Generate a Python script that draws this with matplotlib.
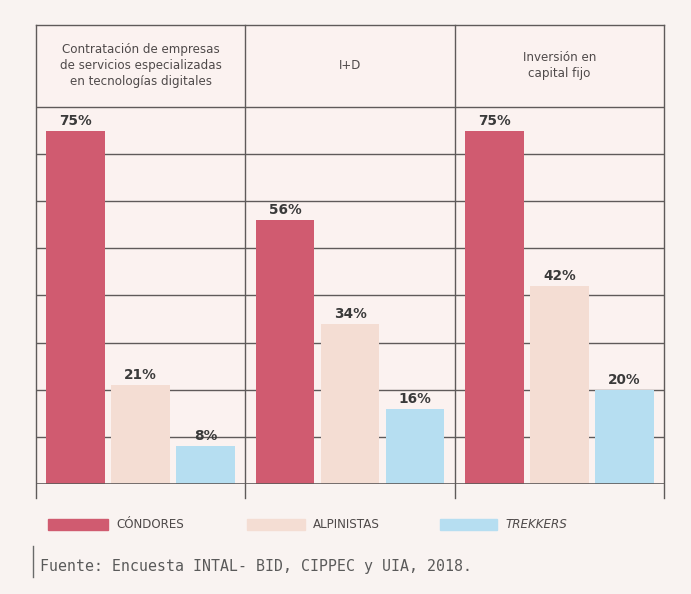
import matplotlib
matplotlib.use("Agg")
import matplotlib.pyplot as plt
from matplotlib.patches import Rectangle
import numpy as np

# ---- datos ------------------------------------------------------------------
categorias = [
    "Contratación de empresas\nde servicios especializadas\nen tecnologías digitales",
    "I+D",
    "Inversión en\ncapital fijo",
]
grupos = ["CÓNDORES", "ALPINISTAS", "TREKKERS"]
condores = [75, 56, 75]
alpinistas = [21, 34, 42]
trekkers = [8, 16, 20]

colores = ["#d05b70", "#f4ddd3", "#b6def1"]
FONDO = "#f9f3f1"
LINEA = "#5f5a5a"

plt.rcParams["font.family"] = ["DejaVu Sans"]

fig = plt.figure(figsize=(6.91, 5.94), dpi=100, facecolor=FONDO)
ax = fig.add_axes([36 / 691, 110 / 594, 628 / 691, 459 / 594])
ax.set_facecolor("#fbf2f0")

ymax_plot = 80
y_top = 97.4   # alto del encabezado por encima de la grilla
ax.set_xlim(0, 3)
ax.set_ylim(0, y_top)

# grilla horizontal detrás de las barras
for y in range(10, ymax_plot + 1, 10):
    ax.axhline(y, color=LINEA, lw=1.0, zorder=1)
ax.axhline(0, color=LINEA, lw=1.2, zorder=4)

# separadores verticales (bajan un poco por debajo de la base)
for x in range(4):
    ax.plot([x, x], [-2.9, y_top], color=LINEA, lw=1.0, clip_on=False, zorder=4)
ax.plot([0, 3], [y_top, y_top], color=LINEA, lw=1.0, clip_on=False, zorder=4)

ancho = 0.28
offsets = [-0.31, 0.0, 0.31]
series = [condores, alpinistas, trekkers]
centros = np.arange(3) + 0.5
for serie, off, col in zip(series, offsets, colores):
    xs = centros + off
    ax.bar(xs, serie, width=ancho, color=col, zorder=2)
    for x, v in zip(xs, serie):
        ax.text(x, v + 0.6, f"{v}%", ha="center", va="bottom", fontsize=9.8,
                fontweight="bold", color="#3a3a3a", zorder=5)

# títulos de cada columna en el encabezado
for c, txt in zip(centros, categorias):
    ax.text(c, (ymax_plot + y_top) / 2, txt, ha="center", va="center",
            fontsize=8.6, color="#4f4a4a", linespacing=1.3)

ax.set_xticks([])
ax.set_yticks([])
for s in ax.spines.values():
    s.set_visible(False)

# leyenda manual
W, H = 691, 594
swatches = [(48, 108), (247, 305), (440, 497)]
for (x0, x1), col, nom in zip(swatches, colores, grupos):
    fig.patches.append(Rectangle((x0 / W, 1 - 530 / H), (x1 - x0) / W, 11 / H,
                                 transform=fig.transFigure, color=col))
    fig.text((x1 + 8) / W, 1 - 525 / H, nom, ha="left", va="center",
             fontsize=8.6, color="#4f4a4a",
             style="italic" if nom == "TREKKERS" else "normal")

# fuente
fig.add_artist(plt.Line2D([33 / W, 33 / W], [1 - 577 / H, 1 - 546 / H],
                          transform=fig.transFigure, color="#6a6a6a", lw=1.0))
fig.text(40 / W, 1 - 566 / H, "Fuente: Encuesta INTAL- BID, CIPPEC y UIA, 2018.",
         ha="left", va="center", fontsize=10.7, color="#5a5a5a",
         family=["DejaVu Sans Mono"])

fig.savefig("out.png", dpi=100, facecolor=FONDO)
